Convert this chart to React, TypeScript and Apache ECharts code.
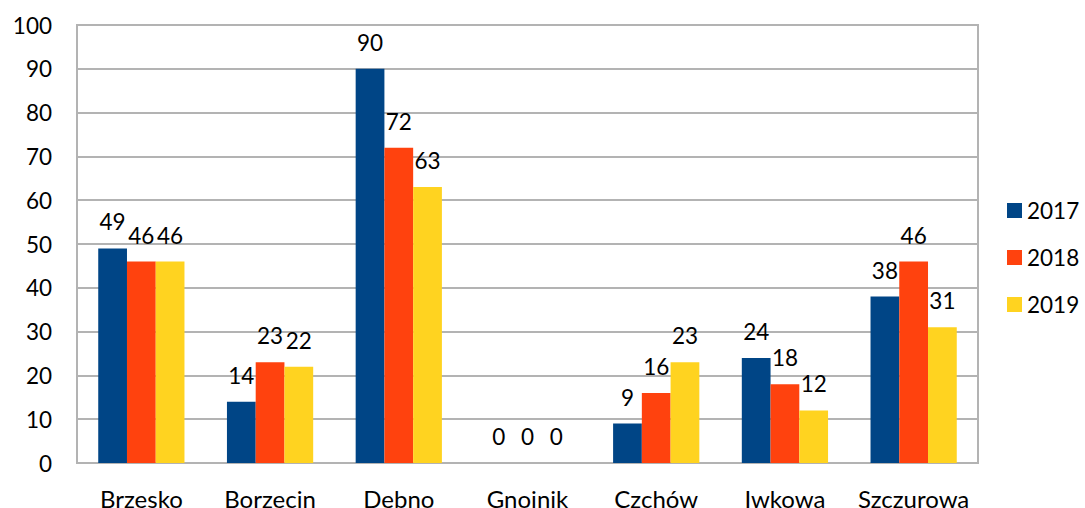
import React, { useEffect, useRef } from "react";
import * as echarts from "echarts";

const categories = ["Brzesko", "Borzecin", "Dębno", "Gnojnik", "Czchów", "Iwkowa", "Szczurowa"];
const years = ["2017", "2018", "2019"];
const values2017 = [49, 14, 90, 0, 9, 24, 38];
const values2018 = [46, 23, 72, 0, 16, 18, 46];
const values2019 = [46, 22, 63, 0, 23, 12, 31];
const colors = ["#004586", "#ff420e", "#ffd320"];
const yTicks = { min: 0, max: 100, interval: 10 };

const FONT = "Lato, 'Noto Sans', sans-serif";

export default function App() {
  const ref = useRef<HTMLDivElement>(null);
  useEffect(() => {
    if (!ref.current) return;
    const chart = echarts.init(ref.current, null, { renderer: "svg" });
    const seriesData = [values2017, values2018, values2019];
    chart.setOption({
      animation: false,
      backgroundColor: "#ffffff",
      textStyle: { fontFamily: FONT },
      grid: {
        left: 77,
        top: 25,
        right: 1085 - 978,
        bottom: 508 - 463,
        show: true,
        borderColor: "#b3b3b3",
        borderWidth: 2,
        containLabel: false,
        outerBoundsMode: "none",
      },
      legend: {
        orient: "vertical",
        left: 1002,
        top: 194,
        itemWidth: 15,
        itemHeight: 15,
        itemGap: 24,
        icon: "rect",
        textStyle: { fontSize: 22.5, color: "#000", fontFamily: FONT },
        data: years,
      },
      xAxis: {
        type: "category",
        data: categories,
        axisLine: { show: true, lineStyle: { color: "#b3b3b3", width: 2 } },
        axisTick: { show: false },
        axisLabel: {
          fontSize: 24,
          color: "#000",
          margin: 23,
          fontFamily: FONT,
          interval: 0,
          hideOverlap: false,
        },
      },
      yAxis: {
        type: "value",
        min: yTicks.min,
        max: yTicks.max,
        interval: yTicks.interval,
        axisLine: { show: false },
        axisTick: { show: false },
        axisLabel: { fontSize: 22.5, color: "#000", margin: 25, fontFamily: FONT },
        splitLine: { show: true, lineStyle: { color: "#b3b3b3", width: 2 } },
      },
      series: years.map((y, i) => ({
        name: y,
        type: "bar",
        data: seriesData[i],
        itemStyle: { color: colors[i] },
        barGap: "0%",
        barCategoryGap: "33%",
        label: {
          show: true,
          position: "top",
          distance: 15,
          fontSize: 22.5,
          color: "#000",
          fontFamily: FONT,
        },
      })),
    });
    return () => chart.dispose();
  }, []);
  return (
    <div
      ref={ref}
      style={{ position: "fixed", left: 0, top: 0, width: 1085, height: 508 }}
    />
  );
}
